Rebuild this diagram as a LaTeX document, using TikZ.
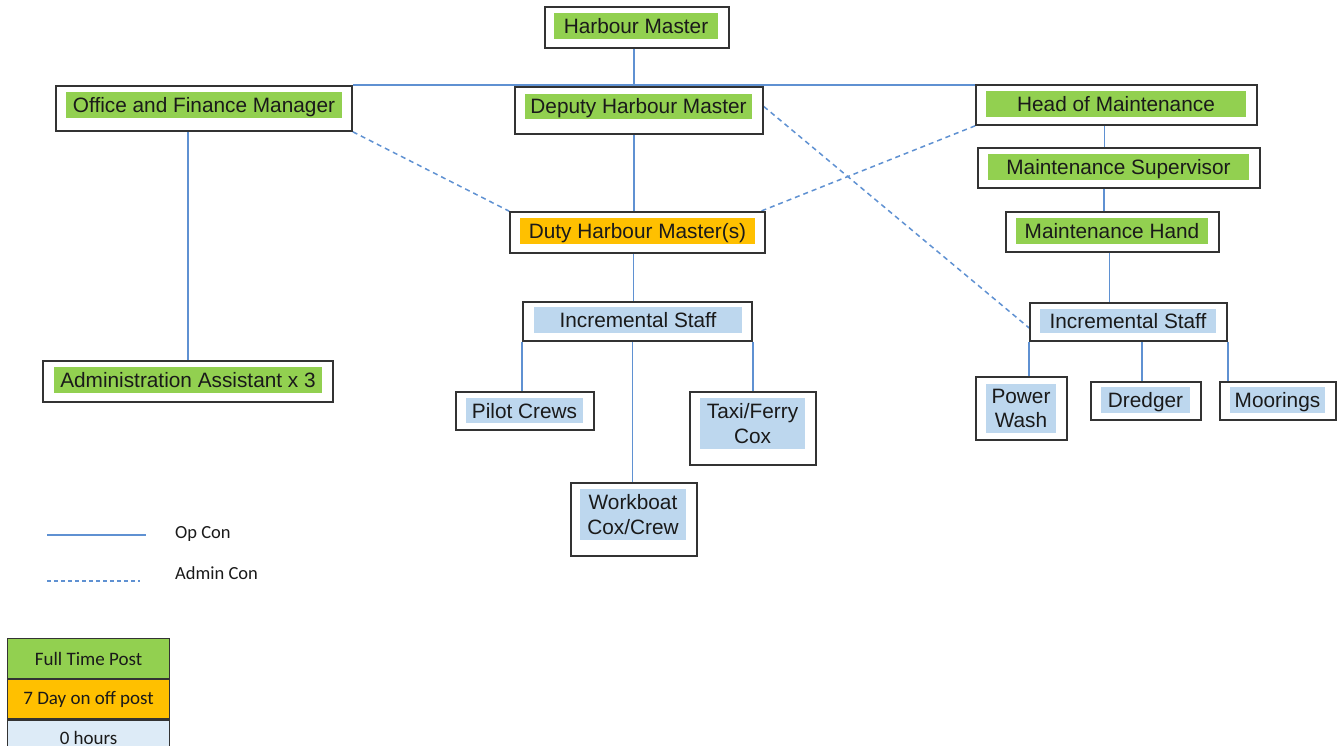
\documentclass[tikz,border=0pt]{standalone}
\usepackage{fontspec}
\setmainfont{Liberation Sans}
\newfontfamily\legfont{Carlito}
\usetikzlibrary{fit,backgrounds}
\definecolor{fgreen}{HTML}{92D050}
\definecolor{forange}{HTML}{FFC000}
\definecolor{fblue}{HTML}{BDD7EE}
\definecolor{fpale}{HTML}{DDEBF7}
\definecolor{lblue}{RGB}{95,145,210}
\definecolor{ink}{HTML}{1A1A1A}
\tikzset{
  frame/.style={draw=black!80, line width=1.6pt, fill=white, inner sep=0pt},
  hl/.style={fill=#1, inner sep=0pt},
  lbl/.style={text=ink, inner sep=0pt, align=center, font=\fontsize{20.8}{25}\selectfont},
  lbl1/.style={lbl, text height=15pt, text depth=0pt},
  opcon/.style={draw=lblue, line width=1.6pt},
  admcon/.style={draw=lblue, line width=1.5pt, dash pattern=on 5pt off 4pt},
  legcell/.style={draw=black!80, line width=1.2pt, minimum width=162pt, inner sep=0pt,
    text=ink, font=\legfont\fontsize{19}{22}\selectfont},
  legtext/.style={anchor=west, inner sep=0pt, text=ink, font=\legfont\fontsize{18.5}{22}\selectfont}
}
\begin{document}
\begin{tikzpicture}[x=1pt,y=-1pt]
\clip (0,0) rectangle (1341,746);

% ---- boxes ----
\node[frame, fit={(545,7)(729,48)}] (hm) {};
\node[hl=fgreen, fit={(554,13)(718,39)}] (hmt) {};
\node[lbl1] at (hmt) {Harbour Master};

\node[frame, fit={(56,86)(352,131)}] (ofm) {};
\node[hl=fgreen, fit={(66,92)(342,118)}] (ofmt) {};
\node[lbl1] at (ofmt) {Office and Finance Manager};

\node[frame, fit={(515,87)(763,134)}] (dhm) {};
\node[hl=fgreen, fit={(525,94)(752,119)}] (dhmt) {};
\node[lbl1] at (dhmt) {Deputy Harbour Master};

\node[frame, fit={(976,85)(1257,125)}] (hom) {};
\node[hl=fgreen, fit={(986,91)(1246,117)}] (homt) {};
\node[lbl1] at (homt) {Head of Maintenance};

\node[frame, fit={(978,148)(1260,188)}] (ms) {};
\node[hl=fgreen, fit={(988,154)(1249,180)}] (mst) {};
\node[lbl1] at (mst) {Maintenance Supervisor};

\node[frame, fit={(1006,212)(1219,252)}] (mh) {};
\node[hl=fgreen, fit={(1016,218)(1208,244)}] (mht) {};
\node[lbl1] at (mht) {Maintenance Hand};

\node[frame, fit={(510,212)(765,253)}] (dhs) {};
\node[hl=forange, fit={(520,218)(755,244)}] (dhst) {};
\node[lbl1] at (dhst) {Duty Harbour Master(s)};

\node[frame, fit={(523,302)(752,341)}] (inc) {};
\node[hl=fblue, fit={(534,307)(742,333)}] (inct) {};
\node[lbl1] at (inct) {Incremental Staff};

\node[frame, fit={(1030,303)(1227,341)}] (incr) {};
\node[hl=fblue, fit={(1040,309)(1216,333)}] (incrt) {};
\node[lbl1] at (incrt) {Incremental Staff};

\node[frame, fit={(43,361)(333,402)}] (adm) {};
\node[hl=fgreen, fit={(54,367)(322,393)}] (admt) {};
\node[lbl1] at (admt) {Administration Assistant x 3};

\node[frame, fit={(456,392)(594,430)}] (pc) {};
\node[hl=fblue, fit={(466,398)(583,423)}] (pct) {};
\node[lbl1] at (pct) {Pilot Crews};

\node[frame, fit={(690,392)(816,465)}] (tfc) {};
\node[hl=fblue, fit={(700,398)(805,449)}] (tfct) {};
\node[lbl] at (tfct) {Taxi/Ferry\\Cox};

\node[frame, fit={(571,483)(697,556)}] (wb) {};
\node[hl=fblue, fit={(580,489)(686,540)}] (wbt) {};
\node[lbl] at (wbt) {Workboat\\Cox/Crew};

\node[frame, fit={(976,377)(1067,440)}] (pw) {};
\node[hl=fblue, fit={(986,384)(1056,433)}] (pwt) {};
\node[lbl, font=\fontsize{20.8}{24}\selectfont] at (pwt) {Power\\Wash};

\node[frame, fit={(1091,382)(1201,420)}] (dr) {};
\node[hl=fblue, fit={(1101,387)(1190,413)}] (drt) {};
\node[lbl1] at (drt) {Dredger};

\node[frame, fit={(1220,382)(1336,420)}] (mo) {};
\node[hl=fblue, fit={(1230,387)(1325,413)}] (mot) {};
\node[lbl1] at (mot) {Moorings};

% ---- connectors ----
\begin{scope}[on background layer]
\fill[white] (0,0) rectangle (1341,746);
\draw[opcon] ([xshift=-3pt]hm.south) -- ([xshift=-3pt]hm.south |- dhm.north);
\draw[opcon] (ofm.north east) -- (ofm.north east -| hom.west);
\draw[opcon] ([xshift=-5pt]dhm.south) -- ([xshift=-5pt]dhm.south |- dhs.north);
\draw[opcon] ([xshift=-4pt]dhs.south) -- ([xshift=-4pt]dhs.south |- inc.north);
\draw[opcon] (adm.north |- ofm.south) -- (adm.north);
\draw[opcon] ([xshift=-12pt]hom.south) -- ([xshift=-12pt]hom.south |- ms.north);
\draw[opcon] ([xshift=-15pt]ms.south) -- ([xshift=-15pt]ms.south |- mh.north);
\draw[opcon] ([xshift=-3pt]mh.south) -- ([xshift=-3pt]mh.south |- incr.north);
\draw[opcon] (inc.south west) -- (inc.south west |- pc.north);
\draw[opcon] (inc.south east) -- (inc.south east |- tfc.north);
\draw[opcon] ([xshift=-5pt]inc.south) -- ([xshift=-5pt]inc.south |- wb.north);
\draw[opcon] (incr.south west) -- (incr.south west |- pw.north);
\draw[opcon] (incr.south east) -- (incr.south east |- mo.north);
\draw[opcon] ([xshift=-4pt]dr.north |- incr.south) -- ([xshift=-4pt]dr.north);
\draw[admcon] (ofm.south east) -- (dhs.north west);
\draw[admcon] (hom.south west) -- ([xshift=-5pt]dhs.north east);
\draw[admcon] ([yshift=4pt]dhm.east) -- ([yshift=-6pt]incr.west);
\end{scope}

% ---- legend ----
\coordinate (op1) at (47,535);
\coordinate (op2) at (146,535);
\coordinate (ad1) at (47,581);
\coordinate (ad2) at (140,581);
\draw[draw=lblue, line width=1.4pt] (op1) -- (op2);
\draw[draw=lblue, line width=1.4pt, dash pattern=on 4pt off 3pt] (ad1) -- (ad2);
\node[legtext] (opt) at (175,534) {Op Con};
\node[legtext] (adt) at (175,573) {Admin Con};

\node[legcell, fill=fgreen, minimum height=40pt, anchor=north west] (l1) at (7,638) {Full Time Post};
\node[legcell, fill=forange, minimum height=39pt, anchor=north] (l2) at (l1.south) {7 Day on off post};
\node[legcell, fill=fpale, minimum height=36pt, anchor=north] (l3) at (l2.south) {0 hours};
\end{tikzpicture}
\end{document}
